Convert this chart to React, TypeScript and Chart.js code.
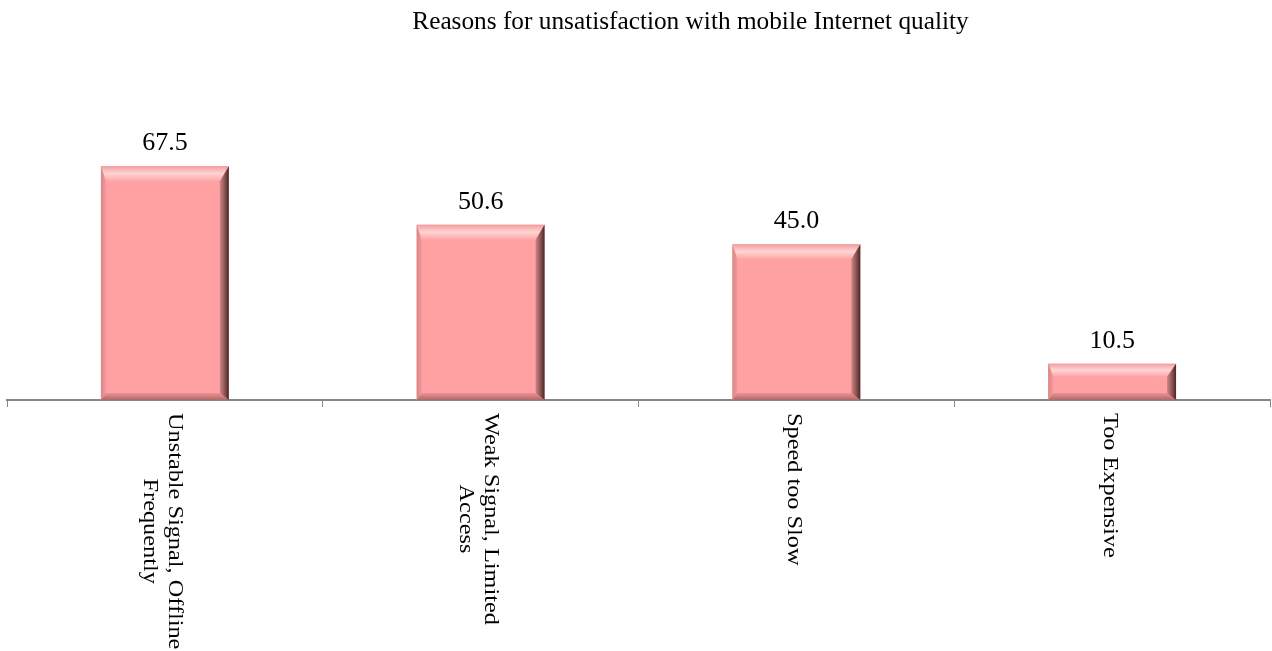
import React, { useEffect, useRef } from "react";
import { Chart, registerables } from "chart.js";

Chart.register(...registerables);

const TITLE = "Reasons for unsatisfaction with mobile Internet quality";
const categories: string[][] = [
  ["Unstable Signal, Offline", "Frequently"],
  ["Weak Signal, Limited", "Access"],
  ["Speed too Slow"],
  ["Too Expensive"],
];
const values: number[] = [67.5, 50.6, 45.0, 10.5];
const valueLabels: string[] = ["67.5", "50.6", "45.0", "10.5"];

const SERIF = "'Times New Roman', 'Liberation Serif', serif";
const BAR_COLOR = "#FFA0A2";

const decorPlugin = {
  id: "decor",
  afterDatasetsDraw(chart: any) {
    const ctx: CanvasRenderingContext2D = chart.ctx;
    const meta = chart.getDatasetMeta(0);
    meta.data.forEach((bar: any, i: number) => {
      const p = bar.getProps(["x", "y", "width", "base"], true);
      const L = p.x - p.width / 2;
      const R = p.x + p.width / 2;
      const T = p.y;
      const B = p.base;
      const h = B - T;
      const bt = Math.min(15, h * 0.36);
      const bb = Math.min(7, h * 0.2);
      const bl = 5;
      const br = 9;
      ctx.save();
      // top bevel
      let g = ctx.createLinearGradient(0, T, 0, T + bt);
      g.addColorStop(0, "#ee9c9c");
      g.addColorStop(0.2, "#f8b4b4");
      g.addColorStop(0.5, "#ffd4d4");
      g.addColorStop(0.75, "#ffbcbc");
      g.addColorStop(1, "#ffa4a6");
      ctx.fillStyle = g;
      ctx.beginPath();
      ctx.moveTo(L, T);
      ctx.lineTo(R, T);
      ctx.lineTo(R - br, T + bt);
      ctx.lineTo(L + bl, T + bt);
      ctx.closePath();
      ctx.fill();
      // left bevel
      g = ctx.createLinearGradient(L, 0, L + bl, 0);
      g.addColorStop(0, "#d68686");
      g.addColorStop(1, "#f59a9c");
      ctx.fillStyle = g;
      ctx.beginPath();
      ctx.moveTo(L, T);
      ctx.lineTo(L + bl, T + bt);
      ctx.lineTo(L + bl, B - bb);
      ctx.lineTo(L, B);
      ctx.closePath();
      ctx.fill();
      // bottom bevel
      g = ctx.createLinearGradient(0, B - bb, 0, B);
      g.addColorStop(0, "#ee9294");
      g.addColorStop(1, "#b06868");
      ctx.fillStyle = g;
      ctx.beginPath();
      ctx.moveTo(L, B);
      ctx.lineTo(R, B);
      ctx.lineTo(R - br, B - bb);
      ctx.lineTo(L + bl, B - bb);
      ctx.closePath();
      ctx.fill();
      // right bevel
      g = ctx.createLinearGradient(R - br, 0, R, 0);
      g.addColorStop(0, "#d08686");
      g.addColorStop(0.5, "#945858");
      g.addColorStop(1, "#452828");
      ctx.fillStyle = g;
      ctx.beginPath();
      ctx.moveTo(R, T);
      ctx.lineTo(R, B);
      ctx.lineTo(R - br, B - bb);
      ctx.lineTo(R - br, T + bt);
      ctx.closePath();
      ctx.fill();
      // value label
      ctx.fillStyle = "#000";
      ctx.font = `26px ${SERIF}`;
      ctx.textAlign = "center";
      ctx.textBaseline = "alphabetic";
      ctx.fillText(valueLabels[i], p.x, T - 16);
      ctx.restore();
    });
  },
  afterDraw(chart: any) {
    const ctx: CanvasRenderingContext2D = chart.ctx;
    ctx.save();
    ctx.fillStyle = "#000";
    ctx.font = `25.3px ${SERIF}`;
    ctx.textAlign = "center";
    ctx.textBaseline = "alphabetic";
    ctx.fillText(TITLE, 690.5, 29);
    ctx.restore();

    const xs = chart.scales.x;
    const top = chart.chartArea.bottom + 13;
    categories.forEach((lines, i) => {
      const cx = xs.getPixelForValue(i);
      const n = lines.length;
      ctx.save();
      ctx.translate(cx, top);
      ctx.rotate(Math.PI / 2);
      ctx.scale(1, 0.86);
      ctx.fillStyle = "#000";
      ctx.font = `24.3px ${SERIF}`;
      ctx.textBaseline = "alphabetic";
      const widths = lines.map((l) => ctx.measureText(l).width);
      const maxW = Math.max(...widths);
      lines.forEach((line, j) => {
        const ly = (8.5 + (j - (n - 1) / 2) * 25) / 0.86;
        ctx.textAlign = "center";
        ctx.fillText(line, maxW / 2, ly);
      });
      ctx.restore();
    });
  },
};

export default function App() {
  const ref = useRef<HTMLCanvasElement>(null);
  useEffect(() => {
    if (!ref.current) return;
    const chart = new Chart(ref.current, {
      type: "bar",
      data: {
        labels: categories.map((c) => c.join(" ")),
        datasets: [
          {
            data: values,
            backgroundColor: BAR_COLOR,
            borderWidth: 0,
            barPercentage: 0.405,
            categoryPercentage: 1,
          },
        ],
      },
      options: {
        responsive: false,
        animation: false,
        devicePixelRatio: 1,
        layout: { padding: { top: 123, left: 7, right: 2, bottom: 0 } },
        plugins: {
          legend: { display: false },
          title: { display: false },
          tooltip: { enabled: false },
        },
        scales: {
          x: {
            display: true,
            offset: true,
            grid: {
              display: true,
              drawOnChartArea: false,
              drawTicks: true,
              tickLength: 7,
              color: "#868686",
              lineWidth: 1,
              offset: true,
            },
            border: { display: true, color: "#868686", width: 2 },
            ticks: { display: false },
            afterFit: (scale: any) => {
              scale.height = 251;
            },
          },
          y: {
            display: false,
            min: 0,
            max: 80,
          },
        },
      },
      plugins: [decorPlugin],
    });
    return () => chart.destroy();
  }, []);
  return (
    <div style={{ position: "absolute", left: 0, top: 0, width: 1272, height: 651 }}>
      <canvas ref={ref} width={1272} height={651} />
    </div>
  );
}
